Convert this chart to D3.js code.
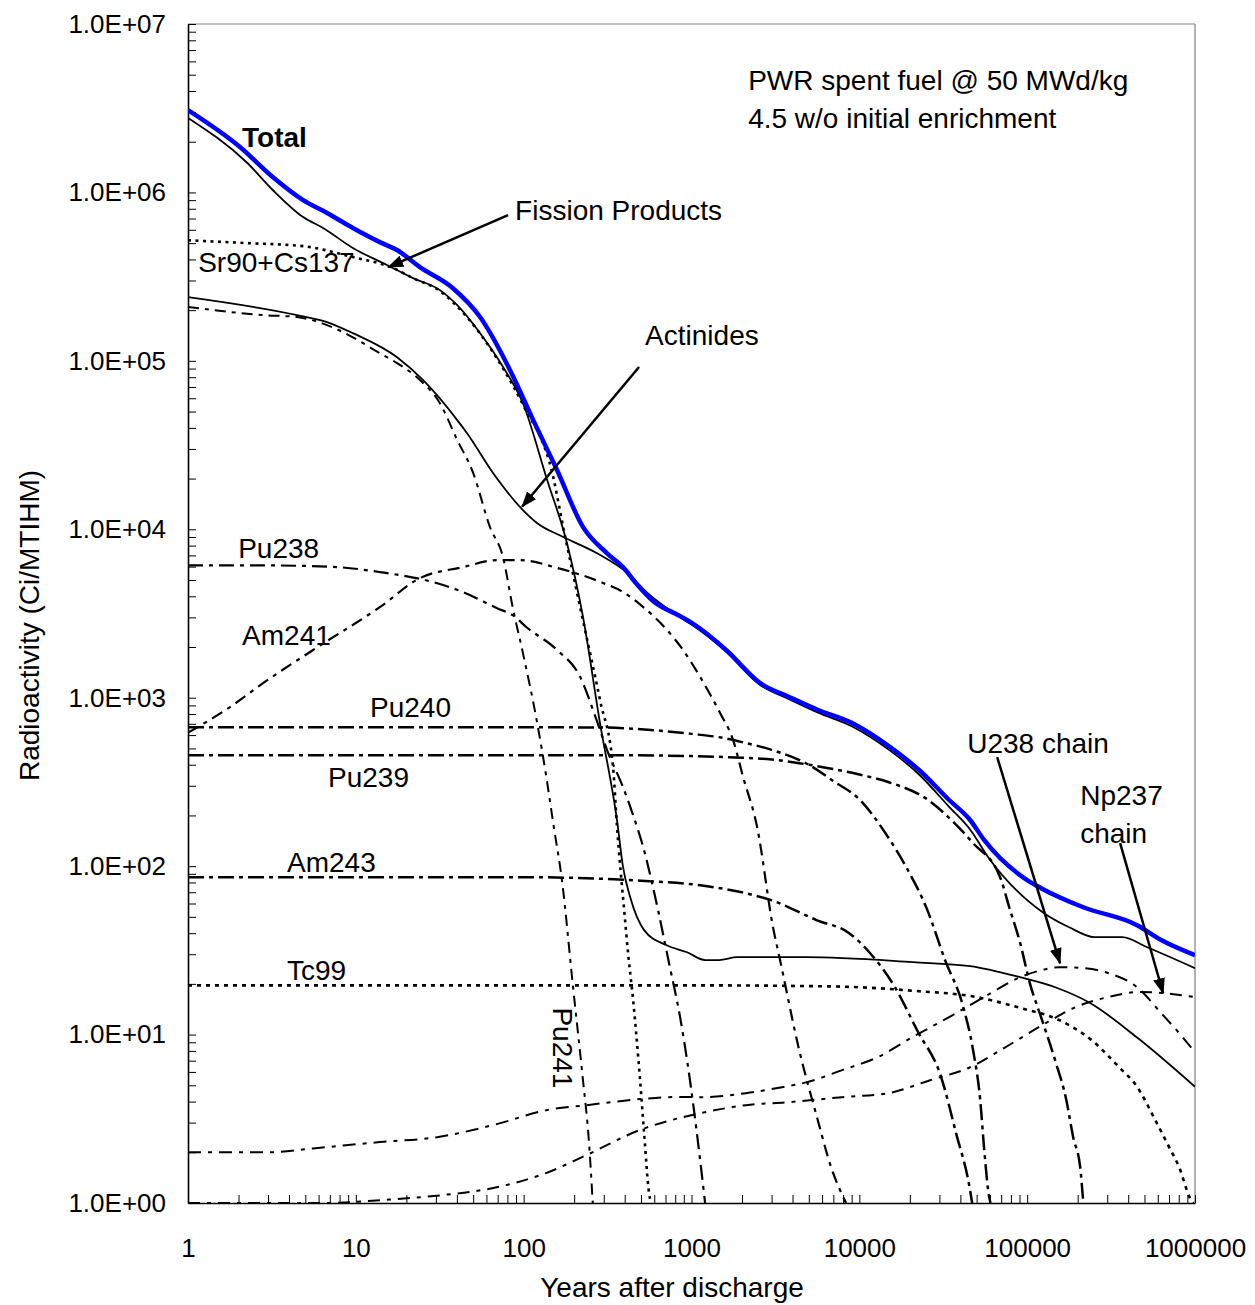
<!DOCTYPE html>
<html>
<head>
  <meta charset="utf-8">
  <title>Radioactivity of PWR spent fuel vs. years after discharge</title>
  <script src="https://d3js.org/d3.v7.min.js"></script>
  <style>
    body { margin: 0; background: #fff; }
    svg text { font-family: "Liberation Sans", Arial, sans-serif; fill: #000; }
    .tick text { font-size: 26px; }
    .tick line { stroke: #000; stroke-width: 1; }
    .domain { stroke: #000; stroke-width: 1.6; }
    .axis-title { font-size: 28px; }
    .note { font-size: 28px; }
  </style>
</head>
<body>
<div id="chart"></div>
<script>
  // Each series: [years after discharge, radioactivity in Ci/MTIHM]
  const total = [[1,3.08e6],[2.04,1.86e6],[3.21,1.23e6],[4.85,9.0e5],[6.74,7.55e5],[9.6,6.15e5],[13.9,5.07e5],
    [17.6,4.55e5],[24.1,3.6e5],[37.9,2.7e5],[55,1.82e5],[83,8.8e4],[114,4.45e4],[158,2.25e4],[226,1.03e4],
    [314,7.2e3],[391,5.96e3],[474,4.7e3],[590,3.75e3],[855,3.05e3],[1009,2.77e3],[1608,1.92e3],[2565,1.22e3],
    [3816,1.01e3],[5680,845],[9060,707],[15250,509],[22700,372],[34270,247],[45700,188],[55400,143],
    [100000,82.6],[121000,74],[216000,57],[452000,44.6],[629000,36.4],[1000000,29.6]];

  const fissionProducts = [[1,2.77e6],[2.25,1.5e6],[3.21,1.03e6],[4.85,7.14e5],[6.38,6.15e5],[9.6,4.68e5],
    [15.3,3.71e5],[21.9,3.1e5],[31.7,2.63e5],[40.2,2.14e5],[55,1.46e5],[75.4,9.2e4],[99,5.6e4],[138,1.96e4],
    [181,8.3e3],[226,3.0e3],[285,707],[360,187],[391,98.6],[431,65.5],[522,41.7],[706,34],[941,30.8],
    [1205,27.7],[1460,27.7],[1870,28.8],[4820,28.8],[20900,26.9],[45700,25.5],[90800,21.9],[147000,19.1],
    [237000,15.4],[452000,9.6],[1000000,4.9]];

  const actinides = [[1,2.39e5],[4.46,1.87e5],[6.74,1.70e5],[9.6,1.46e5],[17.6,1.05e5],[25.1,7.7e4],
    [40.2,4.45e4],[46,3.72e4],[65.7,2.16e4],[99,1.30e4],[120,1.09e4],[172,9.0e3],[274,7.2e3],[415,5.5e3],
    [544,4.2e3],[855,3.0e3],[1009,2.7e3],[1608,1.88e3],[2565,1.19e3],[3816,980],[5680,815],[9060,675],
    [15250,485],[22700,350],[34270,225],[45700,165],[58600,113],[100000,62.8],[126000,52.6],[178000,43.4],
    [251000,37.9],[368000,37.9],[519000,33],[1000000,24.8]];

  const srCs = [[1,5.2e5],[2.25,5.0e5],[4.85,4.8e5],[9.6,4.13e5],[16.6,3.56e5],[21.9,3.1e5],[31.7,2.6e5],
    [40.2,2.1e5],[55,1.45e5],[75.4,9.0e4],[99,5.5e4],[150,2.04e4],[172,1.03e4],[217,3.45e3],[285,968],
    [341,387],[360,171],[397,54.8],[419,30.4],[449,16],[487,6.4],[522,2.6],[559,1.14],[575,1.0]];

  const pu241 = [[1,2.09e5],[2.8,1.87e5],[4.46,1.82e5],[6.74,1.63e5],[9.6,1.38e5],[13.9,1.11e5],[17.6,9.7e4],
    [24.1,7.7e4],[31.7,5.6e4],[40.2,3.39e4],[50,2.16e4],[63,1.03e4],[75.4,6.8e3],[86,3.45e3],[99,1.84e3],
    [120,720],[137,330],[150,180],[170,79],[196,20],[225,5.5],[245,2.3],[258,1.0]];

  const pu238 = [[1,6.1e3],[2.95,6.1e3],[7.7,5.96e3],[13.9,5.57e3],[28.8,4.86e3],[43.5,4.24e3],[69.4,3.4e3],
    [86,3.09e3],[104,2.62e3],[158,1.92e3],[217,1.33e3],[272,736],[314,489],[391,294],[445,206],[522,124],
    [632,54.8],[735,26.5],[855,12.7],[942,7.0],[1035,3.55],[1113,1.98],[1205,1.0]];

  const am241 = [[1,620],[1.78,880],[2.8,1.22e3],[5.56,1.92e3],[13.9,3.45e3],[24.1,5.13e3],[43.5,5.96e3],
    [69.4,6.56e3],[95,6.56e3],[158,5.9e3],[297,4.8e3],[391,4.24e3],[516,3.45e3],[716,2.52e3],[891,1.92e3],
    [1125,1.33e3],[1480,811],[1770,560],[2030,338],[2460,171],[3065,43],[3370,27.7],[4380,8.1],[5610,3.2],
    [6790,1.63],[8340,1.0]];

  const pu240 = [[1,668],[100,668],[300,665],[500,650],[1000,610],[1500,580],[2000,545],[3000,490],
    [5000,400],[7000,320],[10100,247],[14300,157],[19000,99],[25400,55],[32400,27.7],[41600,14.6],
    [47600,8.1],[52500,4.1],[55500,2.06],[59400,1.08],[60500,1.0]];

  const pu239 = [[1,456],[300,456],[1000,450],[2000,440],[3000,430],[5000,400],[10000,350],[15000,315],
    [25700,247],[34000,195],[47600,137],[69000,86],[78200,57],[90800,35],[104000,20],[121000,12.7],
    [147000,7.0],[171000,4.1],[188000,2.46],[207000,1.63],[216000,1.0]];

  const am243 = [[1,86],[100,86],[300,84],[500,82],[1126,77],[2115,69],[2980,62.8],[5600,47.7],[8700,40],
    [11600,30.4],[16300,19.1],[22100,10.6],[30700,5.6],[37700,2.6],[45700,1.19],[47000,1.0]];

  const tc99 = [[1,19.6],[1000,19.6],[5000,19.4],[10000,19.1],[20900,18.2],[50000,16.7],[90800,14.4],
    [155000,12.2],[241000,9.3],[353000,6.4],[452000,4.9],[571000,3.2],[702000,2.14],[805000,1.63],
    [935000,1.07],[980000,1.0]];

  const u238Chain = [[1,2.0],[3,2.0],[5.56,2.11],[13.9,2.30],[30.5,2.46],[69,2.94],[137,3.56],[238,3.81],
    [496,4.14],[850,4.26],[1125,4.25],[2115,4.49],[3465,4.87],[4820,5.2],[7890,6.15],[12900,7.35],
    [20900,9.7],[34300,12.7],[55400,16.7],[90800,21.9],[121000,24.1],[155000,25.1],[216000,24.8],
    [304000,23.2],[452000,19.1],[629000,13.4],[805000,10.2],[1000000,7.85]];

  const np237Chain = [[1,1.0],[7,1.0],[13.9,1.04],[31.7,1.11],[69,1.24],[137,1.51],[238,1.93],[496,2.72],
    [850,3.2],[1125,3.41],[2115,3.81],[3820,3.97],[7890,4.25],[14860,4.49],[26400,5.36],[45700,6.4],
    [74000,8.4],[133000,11.9],[196000,14.6],[304000,16.7],[471000,17.9],[1000000,16.7]];

  // axis ticks
  const xMajor = [1, 10, 100, 1000, 10000, 100000, 1000000];
  const yMajor = [1, 10, 100, 1000, 1e4, 1e5, 1e6, 1e7];

  // text notes and arrows, placed in data coordinates [years, Ci/MTIHM]
  const notes = [
    {text: "PWR spent fuel @ 50 MWd/kg", at: [2175, 4.06e6]},
    {text: "4.5 w/o initial enrichment", at: [2175, 2.41e6]},
    {text: "Total", at: [2.1, 1.86e6], bold: true},
    {text: "Fission Products", at: [88.9, 6.86e5]},
    {text: "Sr90+Cs137", at: [1.15, 3.37e5]},
    {text: "Actinides", at: [529, 1.24e5]},
    {text: "Pu238", at: [1.99, 6.75e3]},
    {text: "Am241", at: [2.1, 2.05e3]},
    {text: "Pu240", at: [12.15, 767]},
    {text: "Pu239", at: [6.83, 294]},
    {text: "Am243", at: [3.89, 92.1]},
    {text: "Tc99", at: [3.89, 21.0]},
    {text: "Pu241", at: [150, 14.5], rotate: 90},
    {text: "U238 chain", at: [43900, 469]},
    {text: "Np237", at: [207000, 230]},
    {text: "chain", at: [207000, 137]}
  ];
  const arrows = [
    {from: [80.7, 7.34e5], to: [15.6, 3.6e5]},
    {from: [487, 9.19e4], to: [97.8, 1.36e4]},
    {from: [66250, 444], to: [157000, 26.5]},
    {from: [358000, 137], to: [646000, 17.6]}
  ];

  // line styles, drawn in this order
  const series = [
    {data: tc99, dash: "4,5", width: 2.6},
    {data: np237Chain, dash: "12,7,4,7", width: 2},
    {data: u238Chain, dash: "13,7,4,7", width: 2},
    {data: am243, dash: "16,5,4,5", width: 2.5},
    {data: pu239, dash: "16,5,4,5", width: 2.5},
    {data: pu240, dash: "16,5,4,5", width: 2.5},
    {data: am241, dash: "12,6,4,6", width: 2.2},
    {data: pu238, dash: "15,6,4,6", width: 2.2},
    {data: pu241, dash: "11,6,4,6", width: 2},
    {data: srCs, dash: "3,4.5", width: 2.6},
    {data: actinides, dash: null, width: 1.8},
    {data: fissionProducts, dash: null, width: 1.8},
    {data: total, dash: null, width: 4.5, color: "#0000ff"}
  ];

  const W = 1255, H = 1305;
  const margin = {top: 24, right: 60, bottom: 102, left: 188};

  const svg = d3.select("#chart").append("svg")
    .attr("width", W)
    .attr("height", H);

  const x = d3.scaleLog().domain([1, 1e6]).range([margin.left, W - margin.right]);
  const y = d3.scaleLog().domain([1, 1e7]).range([H - margin.bottom, margin.top]);

  svg.append("defs").append("clipPath").attr("id", "plotClip")
    .append("rect")
    .attr("x", x(1)).attr("y", y(1e7))
    .attr("width", x(1e6) - x(1)).attr("height", y(1) - y(1e7));

  const marker = svg.select("defs").append("marker")
    .attr("id", "arrowHead")
    .attr("markerUnits", "userSpaceOnUse")
    .attr("markerWidth", 16).attr("markerHeight", 12)
    .attr("refX", 15).attr("refY", 6)
    .attr("orient", "auto");
  marker.append("path").attr("d", "M0,0 L16,6 L0,12 Z").attr("fill", "#000");

  // minor + major ticks for the log axes
  const minorTicks = (majors) => {
    const out = [];
    majors.forEach(m => { for (let k = 1; k <= 9; k++) out.push(m * k); });
    return out.filter(v => v <= majors[majors.length - 1]);
  };
  const isMajor = v => Math.abs(Math.log10(v) - Math.round(Math.log10(v))) < 1e-9;

  // frame: top and right in grey
  svg.append("line")
    .attr("x1", x(1)).attr("x2", x(1e6)).attr("y1", y(1e7)).attr("y2", y(1e7))
    .attr("stroke", "#808080").attr("stroke-width", 1.2);
  svg.append("line")
    .attr("x1", x(1e6)).attr("x2", x(1e6)).attr("y1", y(1e7)).attr("y2", y(1))
    .attr("stroke", "#808080").attr("stroke-width", 1.2);

  svg.append("g")
    .attr("transform", `translate(0,${y(1)})`)
    .call(d3.axisBottom(x)
      .tickValues(minorTicks(xMajor))
      .tickSizeInner(-8).tickSizeOuter(0).tickPadding(36)
      .tickFormat(d => isMajor(d) ? String(Math.round(d)) : ""));

  svg.append("g")
    .attr("transform", `translate(${x(1)},0)`)
    .call(d3.axisLeft(y)
      .tickValues(minorTicks(yMajor))
      .tickSizeInner(-8).tickSizeOuter(0).tickPadding(22)
      .tickFormat(d => isMajor(d) ? "1.0E+" + String(Math.round(Math.log10(d))).padStart(2, "0") : ""));

  svg.selectAll(".tick text").attr("fill", "#000");

  // curves
  const line = d3.line()
    .x(d => x(d[0]))
    .y(d => y(d[1]))
    .curve(d3.curveMonotoneX);

  const plot = svg.append("g").attr("clip-path", "url(#plotClip)");
  series.forEach(s => {
    plot.append("path")
      .datum(s.data)
      .attr("d", line)
      .attr("fill", "none")
      .attr("stroke", s.color || "#000")
      .attr("stroke-width", s.width)
      .attr("stroke-dasharray", s.dash)
      .attr("stroke-linejoin", "round");
  });

  // arrows
  arrows.forEach(a => {
    svg.append("line")
      .attr("x1", x(a.from[0])).attr("y1", y(a.from[1]))
      .attr("x2", x(a.to[0])).attr("y2", y(a.to[1]))
      .attr("stroke", "#000").attr("stroke-width", 2.5)
      .attr("marker-end", "url(#arrowHead)");
  });

  // notes
  notes.forEach(n => {
    const t = svg.append("text")
      .attr("class", "note")
      .attr("transform", `translate(${x(n.at[0])},${y(n.at[1])})` + (n.rotate ? ` rotate(${n.rotate})` : ""))
      .text(n.text);
    if (n.bold) t.style("font-weight", "bold");
  });

  // axis titles
  svg.append("text")
    .attr("class", "axis-title")
    .attr("x", 672).attr("y", 1297)
    .attr("text-anchor", "middle")
    .text("Years after discharge");
  svg.append("text")
    .attr("class", "axis-title")
    .attr("transform", `translate(39,${(y(1) + y(1e7)) / 2 + 12}) rotate(-90)`)
    .attr("text-anchor", "middle")
    .text("Radioactivity (Ci/MTIHM)");
</script>
</body>
</html>
